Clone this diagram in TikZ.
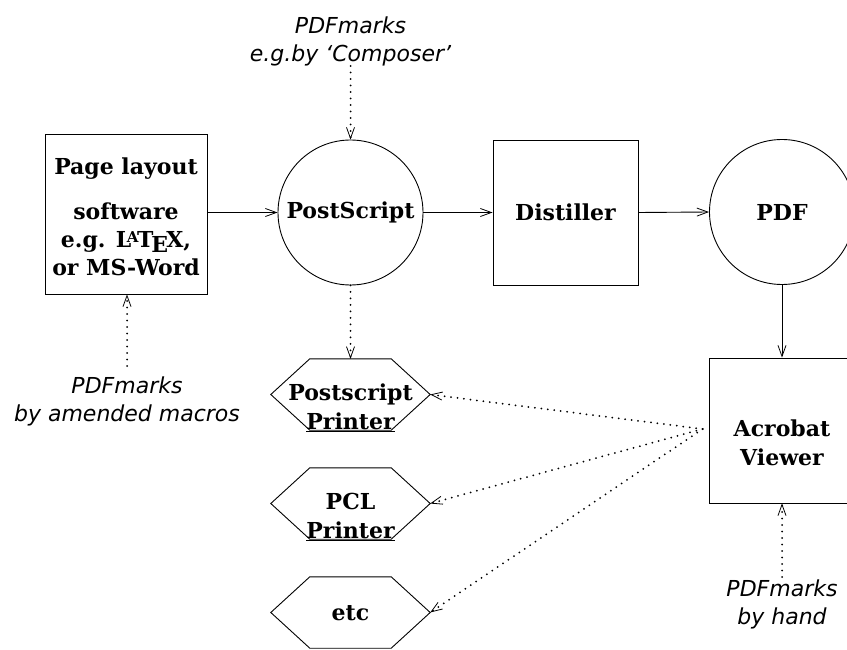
\documentclass[tikz,border=0pt]{standalone}
\usepackage{fontspec}
\setmainfont{DejaVu Serif}
\newfontfamily\labfont{DejaVu Sans}
\usetikzlibrary{arrows.meta,calc}
\newcommand\mylatex{L\kern-0.2em\raisebox{0.24em}{\fontsize{15}{15}\selectfont A}\kern-0.06em T\kern-0.1em\lower0.22em\hbox{E}\kern-0.08em X}
\begin{document}
\begin{tikzpicture}[x=1pt,y=-1pt,
  every node/.style={inner sep=0pt, align=center},
  nodetext/.style={font=\bfseries\fontsize{22}{28.5}\selectfont},
  labtext/.style={font=\labfont\itshape\fontsize{22}{28}\selectfont},
  boxnode/.style={nodetext, draw, line width=0.9pt, rectangle},
  circnode/.style={nodetext, draw, line width=0.9pt, circle, minimum size=145pt},
  hexnode/.style={rectangle, minimum width=159pt, minimum height=71pt},
  inner/.style={nodetext, anchor=base},
  tip/.style={-{Straight Barb[length=11pt,width=8pt,line width=0.8pt]}},
  flow/.style={tip, line width=0.9pt},
  marks/.style={tip, line width=2pt, line cap=round, dash pattern=on 0pt off 6.5pt}
]
\useasboundingbox (0,0) rectangle (847,650);

\node[boxnode, minimum width=162pt, minimum height=160pt] (layout) at (126,214) {};
\node[inner] (layoutt) at (126,276) {Page layout\\[16pt]software\\e.g. \mylatex,\\or MS-Word};
\node[circnode] (ps) at (350.5,212.5) {PostScript};
\node[boxnode, minimum width=145pt, minimum height=145pt] (dist) at (565.5,212.5) {Distiller};
\node[circnode] (pdf) at (782,212) {PDF};
\node[boxnode, minimum width=146pt, minimum height=145pt] (acro) at (782,430.5) {};
\node[inner] (acrot) at (782,465) {Acrobat\\Viewer};

\node[hexnode] (h1) at (350.5,394.5) {};
\node[hexnode] (h2) at (350.5,503.5) {};
\node[hexnode] (h3) at (350.5,612.5) {};
\foreach \h in {h1,h2,h3}
  \draw[line width=0.9pt] (\h.west) -- ([xshift=39pt]\h.north west) -- ([xshift=-39pt]\h.north east)
    -- (\h.east) -- ([xshift=-39pt]\h.south east) -- ([xshift=39pt]\h.south west) -- cycle;
\node[inner] (h1t) at (350.5,429) {Postscript\\\underline{Printer}};
\node[inner] (h2t) at (350.5,538) {PCL\\\underline{Printer}};
\node[inner] (h3t) at (350.5,620) {etc};

\node[labtext, anchor=south] (ltop) at (350.5,66) {PDFmarks\\e.g.by ‘Composer’};
\node[labtext, anchor=north] (lleft) at (127,377) {PDFmarks\\by amended macros};
\node[labtext, anchor=north] (lacro) at (782,580) {PDFmarks\\by hand};

\draw[flow] (layout.east |- ps.west) -- (ps.west);
\draw[flow] (ps.east) -- (dist.west);
\draw[flow] (dist.east) -- (pdf.west);
\draw[flow] (pdf.south) -- (acro.north);

\draw[marks] (ltop.south) -- (ps.north);
\draw[marks, shorten <=11pt] (lleft.north) -- (lleft.north |- layout.south);
\draw[marks, shorten <=3pt] (lacro.north) -- (acro.south);
\draw[marks] (ps.south) -- (h1.north);
\coordinate (fan) at ([xshift=-6pt,yshift=1.5pt]acro.west);
\draw[marks] (fan) -- (h1.east);
\draw[marks] (fan) -- (h2.east);
\draw[marks] (fan) -- (h3.east);
\end{tikzpicture}
\end{document}
